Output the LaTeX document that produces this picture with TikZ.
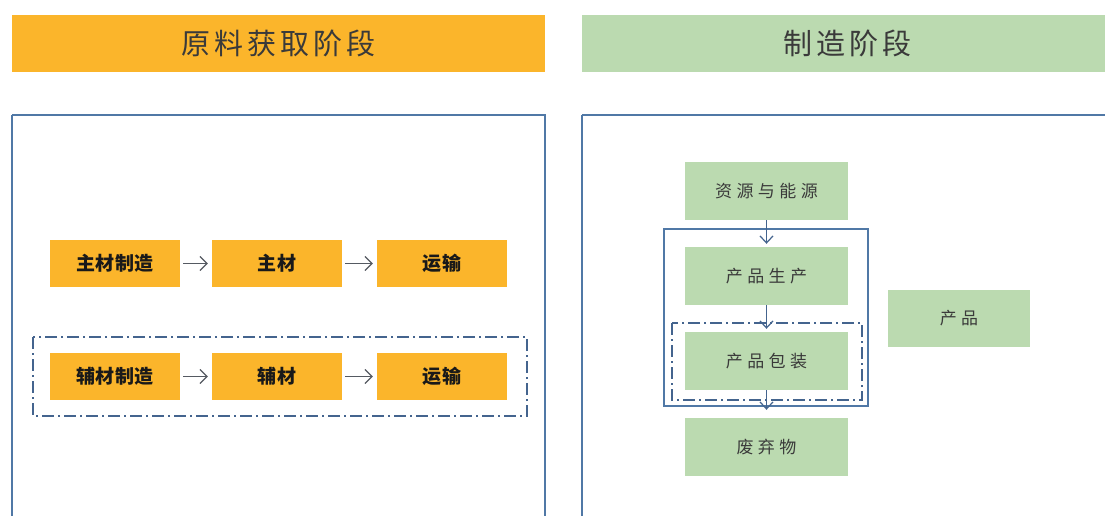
\documentclass[tikz,border=0pt]{standalone}
\usepackage{fontspec}
\setmainfont{Noto Sans CJK SC}
\newfontfamily\cjk{Noto Sans CJK SC}
\usetikzlibrary{arrows.meta}
\definecolor{orangeF}{HTML}{FBB52B}
\definecolor{greenF}{HTML}{BBDAB0}
\definecolor{frameC}{HTML}{5078A6}
\definecolor{dashC}{HTML}{44648E}
\definecolor{arrC}{HTML}{555A62}
\definecolor{txtG}{HTML}{3A3A3A}
\tikzset{
  header/.style={minimum width=#1, minimum height=57pt, inner sep=0pt, font=\fontsize{29}{30}\selectfont\addfontfeature{LetterSpace=14}, text=txtG},
  obox/.style={fill=orangeF, minimum width=130pt, minimum height=47pt, inner sep=0pt, font=\fontsize{19}{20}\selectfont\bfseries\addfontfeature{LetterSpace=3}, text=black!90},
  gbox/.style={fill=greenF, minimum width=163pt, minimum height=58pt, inner sep=0pt, font=\fontsize{17}{18}\selectfont\addfontfeature{LetterSpace=26}, text=txtG},
  panel/.style={draw=frameC, line width=1.4pt},
  dashdot/.style={draw=dashC, line width=1.5pt, dash pattern=on 12pt off 4pt on 2pt off 4pt},
  harrow/.style={draw=arrC, line width=1.2pt, -{Straight Barb[length=7pt,width=14pt]}},
  varrow/.style={draw=dashC, line width=1.2pt, -{Straight Barb[length=7pt,width=13pt]}}
}
\begin{document}
\begin{tikzpicture}[x=1pt,y=-1pt]
\useasboundingbox (0,0) rectangle (1105,516);
\fill[white] (0,0) rectangle (1105,516);
% headers
\node[header=533pt, fill=orangeF, anchor=north west] (h1) at (12,15) {原料获取阶段};
\node[header=530pt, fill=greenF, anchor=north west] (h2) at (582,15) {制造阶段};
% panels
\draw[panel] (12,115) -- (12,530) (12,115) -- (545,115) -- (545,530);
\draw[panel] (582,115) -- (582,530) (582,115) -- (1120,115);
% left rows
\node[obox] (a1) at (115,263.5) {主材制造};
\node[obox] (a2) at (277,263.5) {主材};
\node[obox] (a3) at (442,263.5) {运输};
\node[obox] (b1) at (115,376.5) {辅材制造};
\node[obox] (b2) at (277,376.5) {辅材};
\node[obox] (b3) at (442,376.5) {运输};
\draw[harrow, shorten <=3pt, shorten >=4pt] (a1) -- (a2);
\draw[harrow, shorten <=3pt, shorten >=4pt] (a2) -- (a3);
\draw[harrow, shorten <=3pt, shorten >=4pt] (b1) -- (b2);
\draw[harrow, shorten <=3pt, shorten >=4pt] (b2) -- (b3);
\draw[dashdot] (33,337) rectangle (527,416);
% right
\node[gbox] (r1) at (766.5,191) {资源与能源};
\node[gbox] (r2) at (766.5,276) {产品生产};
\node[gbox] (r3) at (766.5,361) {产品包装};
\node[gbox] (r4) at (766.5,447) {废弃物};
\node[gbox, minimum width=142pt, minimum height=57pt] (p) at (959,318.5) {产品};
\draw[draw=frameC, line width=1.8pt] (664,229) rectangle (868,406);
\draw[dashdot] (672,323) rectangle (862,400);
\draw[varrow, shorten >=3pt] (r1) -- (r2);
\draw[varrow, shorten >=3pt] (r2) -- (r3);
\draw[varrow, shorten >=8pt] (r3) -- (r4);
\end{tikzpicture}
\end{document}
